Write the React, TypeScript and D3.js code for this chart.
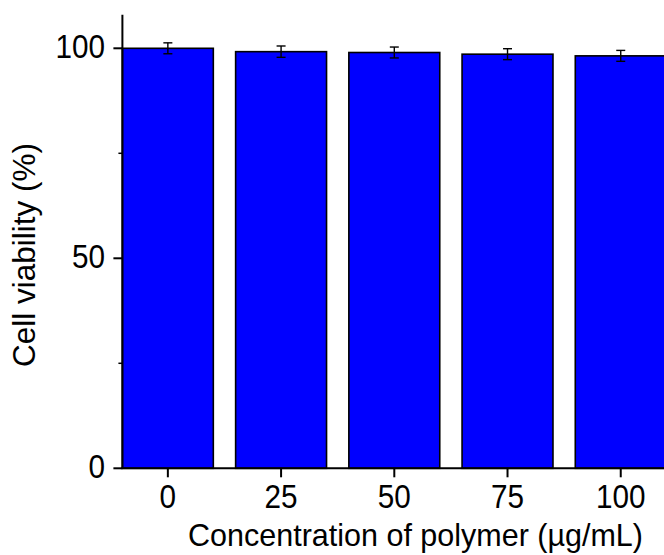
import React from "react";
import * as d3 from "d3";

// Polymer concentrations (µg/mL) and measured cell viability (%)
const concentrations = ["0", "25", "50", "75", "100"];
const viability = [100, 99.2, 99.0, 98.6, 98.2];
const viabilitySD = [1.3, 1.35, 1.3, 1.3, 1.3];
const majorTicks = [0, 50, 100];
const minorTicks = [25, 75];

const W = 664;
const H = 555;
const FONT = "'Liberation Sans', Arial, Helvetica, sans-serif";

export default function App() {
  const x = d3
    .scaleBand<string>()
    .domain(concentrations)
    .range([122.4, 666.2])
    .paddingInner(0.197)
    .paddingOuter(0);

  const y = d3.scaleLinear().domain([0, 108]).range([468.3, 14.7]);

  const x0 = 122.4;
  const y0 = y(0);

  return (
    <svg
      width={W}
      height={H}
      style={{ position: "absolute", left: 0, top: 0, background: "#fff" }}
      fontFamily={FONT}
    >
      {/* bars */}
      {concentrations.map((c, i) => (
        <rect
          key={c}
          x={x(c)}
          y={y(viability[i])}
          width={x.bandwidth()}
          height={y0 - y(viability[i])}
          fill="#0000ff"
          stroke="#000"
          strokeWidth={1.6}
        />
      ))}

      {/* error bars */}
      {concentrations.map((c, i) => {
        const cx = (x(c) as number) + x.bandwidth() / 2;
        const top = y(viability[i] + viabilitySD[i]);
        const bot = y(viability[i] - viabilitySD[i]);
        return (
          <g key={"e" + c} stroke="#000" strokeWidth={1.4}>
            <line x1={cx} x2={cx} y1={top} y2={bot} />
            <line x1={cx - 4.5} x2={cx + 4.5} y1={top} y2={top} />
            <line x1={cx - 4.5} x2={cx + 4.5} y1={bot} y2={bot} />
          </g>
        );
      })}

      {/* y axis */}
      <line x1={x0} x2={x0} y1={y(108)} y2={y0} stroke="#000" strokeWidth={2} />
      {majorTicks.map((t) => (
        <g key={"yt" + t}>
          <line x1={x0 - 9} x2={x0} y1={y(t)} y2={y(t)} stroke="#000" strokeWidth={2} />
          <text
            transform={`translate(105,${y(t) + 9.5}) scale(0.9,1)`}
            textAnchor="end"
            fontSize={33}
            fill="#000"
          >
            {t}
          </text>
        </g>
      ))}
      {minorTicks.map((t) => (
        <line key={"ym" + t} x1={x0 - 4} x2={x0} y1={y(t)} y2={y(t)} stroke="#000" strokeWidth={1.5} />
      ))}

      {/* x axis */}
      <line x1={x0 - 1} x2={W + 4} y1={y0} y2={y0} stroke="#000" strokeWidth={2} />
      {concentrations.map((c) => {
        const cx = (x(c) as number) + x.bandwidth() / 2;
        return (
          <g key={"xt" + c}>
            <line x1={cx} x2={cx} y1={y0} y2={y0 + 9} stroke="#000" strokeWidth={2} />
            <text
              transform={`translate(${cx},508) scale(0.9,1)`}
              textAnchor="middle"
              fontSize={33}
              fill="#000"
            >
              {c}
            </text>
          </g>
        );
      })}

      {/* axis titles */}
      <text x={643} y={546} textAnchor="end" fontSize={30.5} fill="#000">
        Concentration of polymer (µg/mL)
      </text>
      <text
        transform="translate(35,255) rotate(-90)"
        textAnchor="middle"
        fontSize={31.5}
        fill="#000"
      >
        Cell viability (%)
      </text>
    </svg>
  );
}
